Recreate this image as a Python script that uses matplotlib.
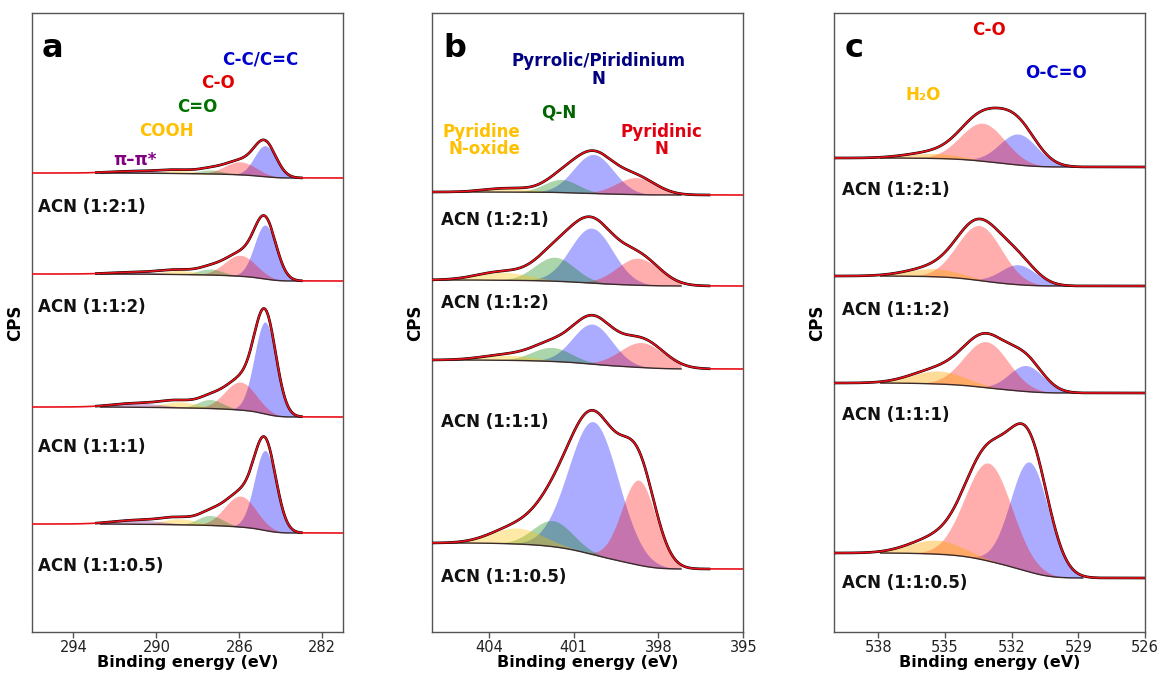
import numpy as np
import matplotlib
matplotlib.use('Agg')
import matplotlib.pyplot as plt

plt.rcParams['font.family'] = ['DejaVu Sans']

# ---------------- data ----------------
samples = ['ACN (1:2:1)', 'ACN (1:1:2)', 'ACN (1:1:1)', 'ACN (1:1:0.5)']

# Panel a : C 1s  (components: C-C/C=C, C-O, C=O, COOH, pi-pi*)
c1s_names = ['C-C/C=C', 'C-O', 'C=O', 'COOH', 'π–π*']
c1s_centers = [[284.75, 285.95, 287.4, 288.9, 290.8]] * 4
c1s_sigmas = [[0.52, 0.75, 0.6, 0.8, 1.2]] * 4
c1s_heights = [[31, 13, 4, 3, 2],
               [54, 21, 6, 4, 2],
               [92, 28, 9, 6, 4],
               [80, 31, 10, 6, 4]]
c1s_bg_high = [459, 358, 225, 108]
c1s_bg_low = [454, 351, 215, 99]
c1s_gain = [1.05, 1.05, 1.05, 1.05]
c1s_ticks = [294, 290, 286, 282]

# Panel b : N 1s  (components: Pyrrolic/Piridinium N, Pyridinic N, Q-N, Pyridine N-oxide)
n1s_names = ['Pyrrolic/Piridinium\nN', 'Pyridinic\nN', 'Q-N', 'Pyridine\nN-oxide']
n1s_centers = [[400.3, 398.8, 401.45, 403.3],
               [400.37, 398.73, 401.67, 403.5],
               [400.34, 398.6, 401.78, 403.3],
               [400.3, 398.7, 401.74, 403.0]]
n1s_sigmas = [[0.7, 0.7, 0.6, 0.8],
              [0.75, 0.75, 0.7, 0.9],
              [0.7, 0.77, 0.7, 0.9],
              [0.88, 0.6, 0.7, 0.9]]
n1s_heights = [[39, 17, 13, 4],
               [55, 27, 24, 8],
               [40, 25, 14, 5],
               [133, 85, 26, 16]]
n1s_bg_high = [440, 352, 272, 89]
n1s_bg_low = [437, 346, 263, 63]
n1s_gain = [1.0, 1.07, 1.12, 1.04]
n1s_ticks = [404, 401, 398, 395]

# Panel c : O 1s  (components: O-C=O, C-O, H2O)
o1s_names = ['O-C=O', 'C-O', 'H₂O']
o1s_centers = [[531.7, 533.3, 535.5],
               [531.7, 533.45, 535.5],
               [531.35, 533.15, 535.3],
               [531.2, 533.05, 535.4]]
o1s_sigmas = [[0.85, 1.0, 1.2],
              [0.8, 1.0, 1.2],
              [0.77, 1.0, 1.2],
              [0.85, 1.05, 1.2]]
o1s_heights = [[31, 38, 5],
               [20, 55, 8],
               [26, 46, 13],
               [110, 98, 14]]
o1s_bg_high = [474, 356, 249, 79]
o1s_bg_low = [465, 346, 239, 54]
o1s_gain = [1.15, 1.05, 1.08, 1.07]
o1s_ticks = [538, 535, 532, 529, 526]

# ---------------- styles / layout ----------------
W, H = 1161, 675
fig = plt.figure(figsize=(W / 100, H / 100), dpi=100)

panels = [
    dict(letter='a', names=c1s_names, centers=c1s_centers, sigmas=c1s_sigmas,
         heights=c1s_heights, hi=c1s_bg_high, lo=c1s_bg_low, gain=c1s_gain,
         ticks=c1s_ticks, xlim=(296, 281), left=32,
         fill_cols=['#0000ff', '#ff0000', '#008000', '#ffc000', '#800080'],
         fill_alpha=[0.35, 0.32, 0.3, 0.35, 0.3],
         draw_order=[0, 1, 2, 3, 4],
         bg_range=(283.1, 292.7), data_range=(283.0, 292.9),
         lab_cols=['#0000cd', '#e00000', '#007000', '#ffc000', '#800080'],
         lab_pos=[(285.0, 572), (287.04, 549), (288.05, 525), (289.5, 501), (291.04, 472)],
         lab_ha=['center'] * 5,
         sample_x=295.71, sample_y=[425, 325, 185, 66],
         letter_x=295.53),
    dict(letter='b', names=n1s_names, centers=n1s_centers, sigmas=n1s_sigmas,
         heights=n1s_heights, hi=n1s_bg_high, lo=n1s_bg_low, gain=n1s_gain,
         ticks=n1s_ticks, xlim=(406, 395), left=432.3,
         fill_cols=['#0000ff', '#ff0000', '#008000', '#ffc000'],
         fill_alpha=[0.33, 0.32, 0.33, 0.35],
         draw_order=[0, 1, 2, 3],
         bg_range=(397.2, 406.0), data_range=(396.2, 406.0),
         lab_cols=['#000080', '#e00010', '#006400', '#ffc000'],
         lab_pos=[(400.12, 562), (397.9, 491.5), (401.53, 519), (402.9, 491.5)],
         lab_ha=['center', 'center', 'center', 'right'],
         sample_x=405.69, sample_y=[412, 329, 210, 55],
         letter_x=405.62),
    dict(letter='c', names=o1s_names, centers=o1s_centers, sigmas=o1s_sigmas,
         heights=o1s_heights, hi=o1s_bg_high, lo=o1s_bg_low, gain=o1s_gain,
         ticks=o1s_ticks, xlim=(540, 526), left=834,
         fill_cols=['#0000ff', '#ff0000', '#ffa500'],
         fill_alpha=[0.33, 0.32, 0.4],
         draw_order=[0, 1, 2],
         bg_range=(528.8, 537.9), data_range=(526.0, 540.0),
         lab_cols=['#0000cd', '#e00000', '#ffc000'],
         lab_pos=[(530.02, 559), (533.03, 602), (536.0, 537)],
         lab_ha=['center', 'center', 'center'],
         sample_x=539.64, sample_y=[442, 322, 217, 49],
         letter_x=539.5),
]

ax_bottom, ax_height, ax_width = 43, 619, 311


def gauss(x, h, c, s):
    return h * np.exp(-(x - c) ** 2 / (2 * s ** 2))


def shirley(x, total, hi, lo):
    order = np.argsort(x)
    cs = np.cumsum(total[order])
    frac = np.empty_like(cs)
    frac[order] = cs / cs[-1]
    return lo + (hi - lo) * frac


for p in panels:
    ax = fig.add_axes([p['left'] / W, ax_bottom / H, ax_width / W, ax_height / H])
    x = np.linspace(min(p['xlim']), max(p['xlim']), 900)
    for i in range(4):
        comps = [gauss(x, h, c, s) for h, c, s in
                 zip(p['heights'][i], p['centers'][i], p['sigmas'][i])]
        total = np.sum(comps, axis=0)
        bg = shirley(x, total, p['hi'][i], p['lo'][i])
        env = bg + p['gain'][i] * total
        mbg = (x >= p['bg_range'][0]) & (x <= p['bg_range'][1])
        mdat = (x >= p['data_range'][0]) & (x <= p['data_range'][1])
        for k in p['draw_order']:
            ax.fill_between(x[mbg], bg[mbg], bg[mbg] + comps[k][mbg],
                            color=p['fill_cols'][k], alpha=p['fill_alpha'][k],
                            lw=0, zorder=2)
        ax.plot(x[mbg], bg[mbg], color='#3a2a2a', lw=1.0, zorder=3)
        ax.plot(x[mdat], env[mdat], color='black', lw=1.9, zorder=4)
        ax.plot(x, env, color='#e8101a', lw=1.2, zorder=5)
        ax.text(p['sample_x'], p['sample_y'][i], samples[i], fontsize=12,
                fontweight='bold', ha='left', va='center', color='#111111')

    for name, col, (lx, ly), ha in zip(p['names'], p['lab_cols'], p['lab_pos'], p['lab_ha']):
        ax.text(lx, ly, name, color=col, fontsize=12, fontweight='bold',
                ha=ha, va='center', multialignment=ha, linespacing=0.95)

    ax.text(p['letter_x'], 575, p['letter'], fontsize=23, fontweight='bold',
            ha='left', va='baseline', color='black')

    ax.set_xlim(*p['xlim'])
    ax.set_ylim(0, 619)
    ax.set_xticks(p['ticks'])
    ax.set_yticks([])
    ax.tick_params(axis='x', direction='out', length=4, width=1, color='#555555',
                   labelsize=10.5, labelcolor='#222222', pad=2)
    for sp in ax.spines.values():
        sp.set_color('#555555')
        sp.set_linewidth(1.0)
    ax.set_xlabel('Binding energy (eV)', fontsize=11.5, fontweight='bold', labelpad=0)
    ax.set_ylabel('CPS', fontsize=12, fontweight='bold', labelpad=6)

fig.savefig('out.png', dpi=100)
